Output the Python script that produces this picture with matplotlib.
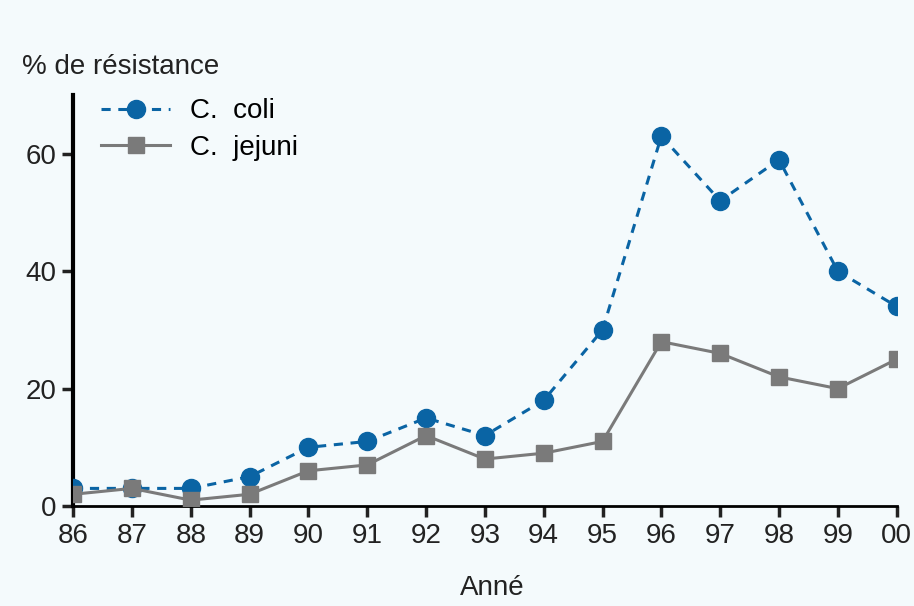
import matplotlib.pyplot as plt

# années (86 .. 00) et % de résistance
years = list(range(15))
year_labels = ['86', '87', '88', '89', '90', '91', '92', '93', '94', '95',
               '96', '97', '98', '99', '00']
coli = [3, 3, 3, 5, 10, 11, 15, 12, 18, 30, 63, 52, 59, 40, 34]
jejuni = [2, 3, 1, 2, 6, 7, 12, 8, 9, 11, 28, 26, 22, 20, 25]

plt.rcParams['font.family'] = ['Liberation Sans', 'DejaVu Sans']
bg = '#f4fafc'

fig = plt.figure(figsize=(9.14, 6.06), dpi=100, facecolor=bg)
ax = fig.add_axes([0.08, 0.165, 0.901, 0.678], facecolor=bg)

ax.plot(years, coli, linestyle=(0, (3, 2.5)), color='#0a64a4', linewidth=2.2,
        marker='o', markersize=13, label='C.  coli', zorder=3)
ax.plot(years, jejuni, linestyle='-', color='#7a7a7a', linewidth=2.2,
        marker='s', markersize=11, label='C.  jejuni', zorder=4)

ax.set_xlim(0, 14)
ax.set_ylim(0, 70)
ax.set_xticks(years)
ax.set_xticklabels(year_labels)
ax.set_yticks([0, 20, 40, 60])

for s in ['top', 'right']:
    ax.spines[s].set_visible(False)
ax.spines['left'].set_linewidth(3)
ax.spines['bottom'].set_linewidth(2)
ax.tick_params(axis='both', labelsize=20, width=2.5, length=8,
               colors='#222222', pad=4)
for lab in ax.get_xticklabels() + ax.get_yticklabels():
    lab.set_clip_on(False)

fig.text(0.024, 0.878, '% de résistance', fontsize=20, color='#222222')
fig.text(0.503, 0.018, 'Anné', fontsize=20, color='#222222')

ax.legend(loc='upper left', bbox_to_anchor=(0.0, 1.06), frameon=False,
          fontsize=20, handlelength=2.5, handletextpad=0.7,
          labelspacing=0.38, borderaxespad=0.6)

plt.savefig('out.png', dpi=100, facecolor=bg)
